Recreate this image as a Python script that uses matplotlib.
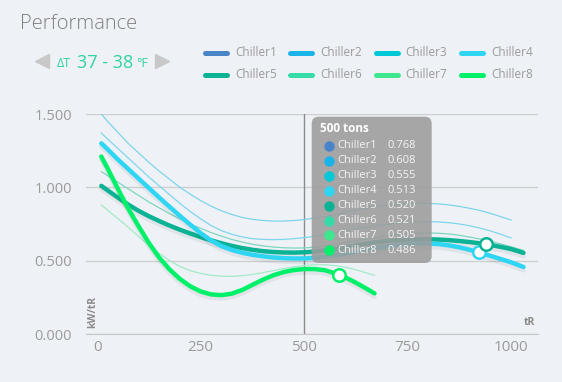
import matplotlib
matplotlib.use('Agg')
import matplotlib.pyplot as plt
import matplotlib.patheffects as pe
from matplotlib.patches import FancyBboxPatch
from matplotlib.lines import Line2D

plt.rcParams['font.family'] = ['Open Sans', 'DejaVu Sans']

# ---- data ----
names = ['Chiller1', 'Chiller2', 'Chiller3', 'Chiller4',
         'Chiller5', 'Chiller6', 'Chiller7', 'Chiller8']
colors = ['#4A84C8', '#1AB4E8', '#00C8D6', '#2ED6F4',
          '#0BB394', '#36DCA8', '#3DE88D', '#00F06A']
tip_values = [0.768, 0.608, 0.555, 0.513, 0.520, 0.521, 0.505, 0.486]
tip_tons = 500

tons_long = [10, 25, 50, 75, 100, 125, 150, 175, 200, 225,
             250, 275, 300, 325, 350, 375, 400, 425, 450, 475,
             500, 525, 550, 575, 600, 625, 650, 675, 700, 725,
             750, 775, 800, 825, 850, 875, 900, 925, 950, 975,
             1000, 1030]
tons_mid = [10, 25, 50, 75, 100, 125, 150, 175, 200, 225,
            250, 275, 300, 325, 350, 375, 400, 425, 450, 475,
            500, 525, 550, 575, 600, 625, 650, 675, 700, 725,
            750, 775, 800, 825, 850, 875, 900, 925, 950, 975,
            1000]
tons_short = [10, 25, 50, 75, 100, 125, 150, 175, 200, 225,
              250, 275, 300, 325, 350, 375, 400, 425, 450, 475,
              500, 525, 550, 575, 600, 625, 650, 670]

chiller1 = [1.50, 1.45, 1.375, 1.30, 1.235, 1.17, 1.11, 1.055, 1.0, 0.953,
            0.91, 0.872, 0.84, 0.815, 0.795, 0.782, 0.774, 0.77, 0.77, 0.774,
            0.78, 0.79, 0.80, 0.815, 0.83, 0.845, 0.858, 0.87, 0.878, 0.885,
            0.89, 0.892, 0.891, 0.887, 0.88, 0.87, 0.857, 0.842, 0.823, 0.80,
            0.777]
chiller2 = [1.37, 1.33, 1.265, 1.20, 1.135, 1.07, 1.01, 0.95, 0.89, 0.835,
            0.785, 0.74, 0.705, 0.68, 0.662, 0.65, 0.645, 0.643, 0.645, 0.65,
            0.657, 0.666, 0.677, 0.69, 0.703, 0.716, 0.728, 0.739, 0.748, 0.756,
            0.762, 0.765, 0.766, 0.764, 0.759, 0.75, 0.738, 0.722, 0.703, 0.68,
            0.655]
chiller3 = [1.107, 1.08, 1.035, 0.99, 0.945, 0.90, 0.86, 0.82, 0.785, 0.75,
            0.72, 0.692, 0.667, 0.645, 0.627, 0.612, 0.601, 0.593, 0.588, 0.586,
            0.587, 0.592, 0.60, 0.61, 0.622, 0.635, 0.648, 0.66, 0.67, 0.678,
            0.684, 0.688, 0.689, 0.687, 0.682, 0.673, 0.661, 0.647, 0.632, 0.614,
            0.595, 0.57]
chiller4 = [1.30, 1.26, 1.19, 1.125, 1.06, 0.995, 0.93, 0.867, 0.805, 0.745,
            0.688, 0.638, 0.60, 0.573, 0.554, 0.54, 0.53, 0.522, 0.517, 0.515,
            0.515, 0.519, 0.527, 0.537, 0.549, 0.561, 0.574, 0.586, 0.597, 0.606,
            0.612, 0.616, 0.617, 0.613, 0.604, 0.591, 0.574, 0.554, 0.533, 0.511,
            0.489, 0.457]
chiller5 = [1.01, 0.98, 0.93, 0.882, 0.84, 0.803, 0.77, 0.739, 0.711, 0.685,
            0.661, 0.639, 0.619, 0.601, 0.586, 0.574, 0.565, 0.559, 0.556, 0.555,
            0.557, 0.562, 0.57, 0.58, 0.592, 0.604, 0.616, 0.626, 0.634, 0.64,
            0.644, 0.646, 0.646, 0.644, 0.64, 0.634, 0.627, 0.618, 0.607, 0.594,
            0.579, 0.553]
chiller7 = [0.88, 0.845, 0.787, 0.728, 0.665, 0.605, 0.55, 0.50, 0.46, 0.432,
            0.413, 0.40, 0.394, 0.393, 0.397, 0.406, 0.418, 0.432, 0.446, 0.458,
            0.467, 0.472, 0.472, 0.466, 0.455, 0.438, 0.417, 0.40]
chiller8 = [1.21, 1.13, 0.99, 0.855, 0.735, 0.62, 0.52, 0.44, 0.375, 0.325,
            0.29, 0.27, 0.265, 0.275, 0.30, 0.335, 0.37, 0.40, 0.422, 0.436,
            0.443, 0.443, 0.435, 0.413, 0.385, 0.35, 0.31, 0.277]

# current operating points (white circles)
op_tons = [923, 939, 584]
op_vals = [0.556, 0.612, 0.403]
op_colors = ['#2ED6F4', '#0BB394', '#00F06A']

x_ticks = [0, 250, 500, 750, 1000]
y_ticks = [0, 0.5, 1.0, 1.5]
y_labels = ['0.000', '0.500', '1.000', '1.500']

bg = '#EEF2F6'
grey = '#9A9A9A'

fig = plt.figure(figsize=(5.62, 3.82), dpi=100, facecolor=bg)
ax = fig.add_axes([86 / 562, 1 - 334 / 382, 452 / 562, 220 / 382])
ax.set_facecolor(bg)


def px(x, y):
    # pixel position (from top-left) -> inches for dpi_scale_trans
    return x / 100, (382 - y) / 100


tr = fig.dpi_scale_trans

# thin (inactive) curves
ax.plot(tons_mid, chiller1, color='#7ED4EC', lw=0.9, zorder=2)
ax.plot(tons_mid, chiller2, color='#7ED6EE', lw=0.9, zorder=2)
ax.plot(tons_long, chiller3, color='#7FD6C0', lw=0.9, zorder=2)
ax.plot(tons_short, chiller7, color='#A2EAC8', lw=0.9, zorder=2)

shadow = [pe.SimpleLineShadow(offset=(0, -2.5), shadow_color='#000000', alpha=0.06),
          pe.Normal()]
ax.plot(tons_long, chiller5, color=colors[4], lw=3.2, solid_capstyle='round',
        zorder=3, path_effects=shadow)
ax.plot(tons_long, chiller4, color=colors[3], lw=3.2, solid_capstyle='round',
        zorder=4, path_effects=shadow)
ax.plot(tons_short, chiller8, color=colors[7], lw=3.2, solid_capstyle='round',
        zorder=5, path_effects=shadow)

for t, v, c in zip(op_tons, op_vals, op_colors):
    ax.plot([t], [v], 'o', ms=9, mfc='white', mec=c, mew=1.8, zorder=6)

ax.axvline(tip_tons, color='#8C8C8C', lw=1, zorder=1)

ax.set_xlim(-27, 1065)
ax.set_ylim(0, 1.5)
ax.set_xticks(x_ticks)
ax.set_yticks(y_ticks)
ax.set_yticklabels(y_labels)
ax.grid(axis='y', color='#CFCFCF', lw=1)
ax.set_axisbelow(True)
for s in ['top', 'right', 'left']:
    ax.spines[s].set_visible(False)
ax.spines['bottom'].set_color('#C8C8C8')
ax.tick_params(axis='both', length=0, colors=grey, labelsize=10.5)
ax.tick_params(axis='y', pad=10)
ax.tick_params(axis='x', pad=4, labelsize=11)

ax.text(0.016, 0.027, 'kW/tR', transform=ax.transAxes, rotation=90, ha='center',
        va='bottom', fontsize=7.5, color='#8A8A8A', fontweight='bold')
ax.text(0.993, 0.027, 'tR', transform=ax.transAxes, ha='right', va='bottom',
        fontsize=7.5, color='#8A8A8A', fontweight='bold')

# header
fig.text(*px(20, 29), 'Performance', transform=tr, fontsize=14.5, color='#7F7F7F',
         fontweight='light', va='baseline')
fig.text(*px(57, 67), 'ΔT', transform=tr, fontsize=9, color='#2ED3A0', va='baseline')
fig.text(*px(77, 67.5), '37 - 38', transform=tr, fontsize=13, color='#2ED3A0', va='baseline')
fig.text(*px(136, 67), '°F', transform=tr, fontsize=9, color='#2ED3A0', va='baseline')
fig.add_artist(Line2D([px(41.5, 61)[0]], [px(41.5, 61)[1]], marker='<', ms=10,
                      color='#C8C8C8', transform=tr, lw=0))
fig.add_artist(Line2D([px(161.5, 61)[0]], [px(161.5, 61)[1]], marker='>', ms=10,
                      color='#C8C8C8', transform=tr, lw=0))

# legend, 2 rows x 4 cols
for i, (n, c) in enumerate(zip(names, colors)):
    row, col = divmod(i, 4)
    hx = 205 + col * 85.3
    hy = 52.5 + row * 22.5
    x0, y0 = px(hx, hy)
    x1, _ = px(hx + 22, hy)
    fig.add_artist(Line2D([x0, x1], [y0, y0], color=c, lw=3.6,
                          solid_capstyle='round', transform=tr))
    fig.text(*px(hx + 30, hy), n, transform=tr, fontsize=8.5, color=grey, va='center')

# tooltip
bx0, by0 = px(311.7, 263)
bx1, by1 = px(431.7, 116.7)
fig.add_artist(FancyBboxPatch((bx0, by0), bx1 - bx0, by1 - by0,
                              boxstyle='round,pad=0,rounding_size=0.07',
                              transform=tr, facecolor='#9C9C9C', alpha=0.88,
                              edgecolor='none'))
fig.text(*px(320.5, 128.5), '%d tons' % tip_tons, transform=tr, fontsize=8.5,
         color='white', fontweight='bold', va='center')
for i, (n, c, v) in enumerate(zip(names, colors, tip_values)):
    ry = 146 + i * 14.9
    fig.add_artist(Line2D([px(329.3, ry)[0]], [px(329.3, ry)[1]], marker='o', ms=6.5,
                          color=c, transform=tr, lw=0))
    fig.text(*px(337, ry), n, transform=tr, fontsize=8, color='#F4F4F4', va='center')
    fig.text(*px(416, ry), '%.3f' % v, transform=tr, fontsize=8, color='#F4F4F4',
             va='center', ha='right')

fig.savefig('out.png', dpi=100, facecolor=bg)
